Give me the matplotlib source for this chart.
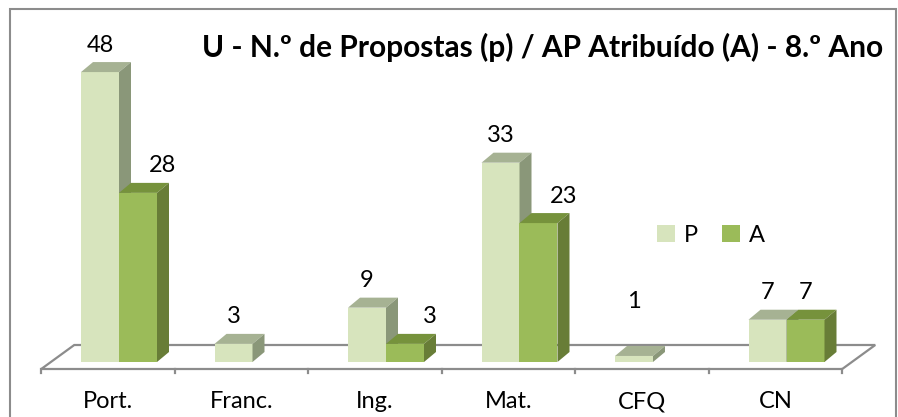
import matplotlib
matplotlib.use('Agg')
from matplotlib import pyplot as plt
from matplotlib.patches import Polygon, Rectangle, Patch

# data
categories = ['Port.', 'Franc.', 'Ing.', 'Mat.', 'CFQ', 'CN']
propostas = [48, 3, 9, 33, 1, 7]
atribuido = [28, 0, 3, 23, 0, 7]
series_names = ['P', 'A']
title = 'U - N.º de Propostas (p) / AP Atribuído (A) - 8.º Ano'

# colours: front, top, side
col_p = ('#D7E4BD', '#A6B293', '#8A9779')
col_a = ('#9BBB59', '#76923C', '#687D37')
grid_col = '#8C8C8C'

plt.rcParams['font.family'] = ['Lato', 'DejaVu Sans']

W, H = 898, 417
fig = plt.figure(figsize=(W / 100, H / 100), dpi=100)
ax = fig.add_axes([0, 0, 1, 1])

# pixel anchors of the fake 3d layout
X0, CW = 108, 133.5   # centre of first category, width of a category
Y0, PU = 362, 6.04    # baseline, pixels per unit
ax.set_xlim((0 - X0) / CW, (W - X0) / CW)
ax.set_ylim((Y0 - H) / PU, Y0 / PU)
ax.axis('off')

bw = 38 / CW
dx, dy = 12 / CW, 10 / PU
n = len(categories)

# floor
fy, by = (Y0 - 369) / PU, (Y0 - 345) / PU
shift = 33 / CW
floor = Polygon([(-0.5, fy), (n - 0.5, fy), (n - 0.5 + shift, by), (-0.5 + shift, by)],
                closed=True, fill=False, edgecolor=grid_col, lw=1.6, zorder=1)
ax.add_patch(floor)
for k in range(n + 1):
    ax.plot([k - 0.5, k - 0.5], [fy, fy - 4 / PU], color=grid_col, lw=1.6, zorder=1)


def bar3d(x, v, cols):
    if v <= 0:
        return
    front, top, side = cols
    ax.add_patch(Rectangle((x, 0), bw, v, facecolor=front, edgecolor='none', zorder=2))
    ax.add_patch(Polygon([(x, v), (x + bw, v), (x + bw + dx, v + dy), (x + dx, v + dy)],
                         facecolor=top, edgecolor='none', zorder=2))
    ax.add_patch(Polygon([(x + bw, 0), (x + bw + dx, dy), (x + bw + dx, v + dy), (x + bw, v)],
                         facecolor=side, edgecolor='none', zorder=2))


lab_off = 17 / PU
for i in range(n):
    xp = i - 27 / CW
    xa = xp + bw
    bar3d(xp, propostas[i], col_p)
    bar3d(xa, atribuido[i], col_a)

    # value labels
    yp = propostas[i] + dy + lab_off
    if propostas[i] < 2:
        yp += 27 / PU
    ax.text(xp + bw / 2, yp, str(propostas[i]), ha='center', va='center', fontsize=17)
    if atribuido[i] > 0:
        if atribuido[i] < propostas[i]:
            xt = xa + bw + 6 / CW
        else:
            xt = xa + bw / 2
        ax.text(xt, atribuido[i] + dy + lab_off, str(atribuido[i]),
                ha='center', va='center', fontsize=17)

    ax.text(i, (Y0 - 402) / PU, categories[i], ha='center', va='center', fontsize=17)

ax.text((883 - X0) / CW, (Y0 - 47) / PU, title, ha='right', va='center',
        fontsize=21.5, fontweight='bold')

handles = [Patch(facecolor=col_p[0]), Patch(facecolor=col_a[0])]
fig.legend(handles, series_names, loc='center', bbox_to_anchor=(711 / W, 1 - 235 / H),
           ncol=2, frameon=False, fontsize=17, handlelength=0.75, handleheight=0.75,
           handletextpad=0.4, columnspacing=1.0, borderpad=0)

# chart frame
fig.patches.append(Rectangle((10 / W, -0.05), (896 - 10) / W, 1 - 9 / H + 0.05,
                             transform=fig.transFigure, fill=False, edgecolor=grid_col, lw=1.5))

fig.savefig('out.png', dpi=100)
